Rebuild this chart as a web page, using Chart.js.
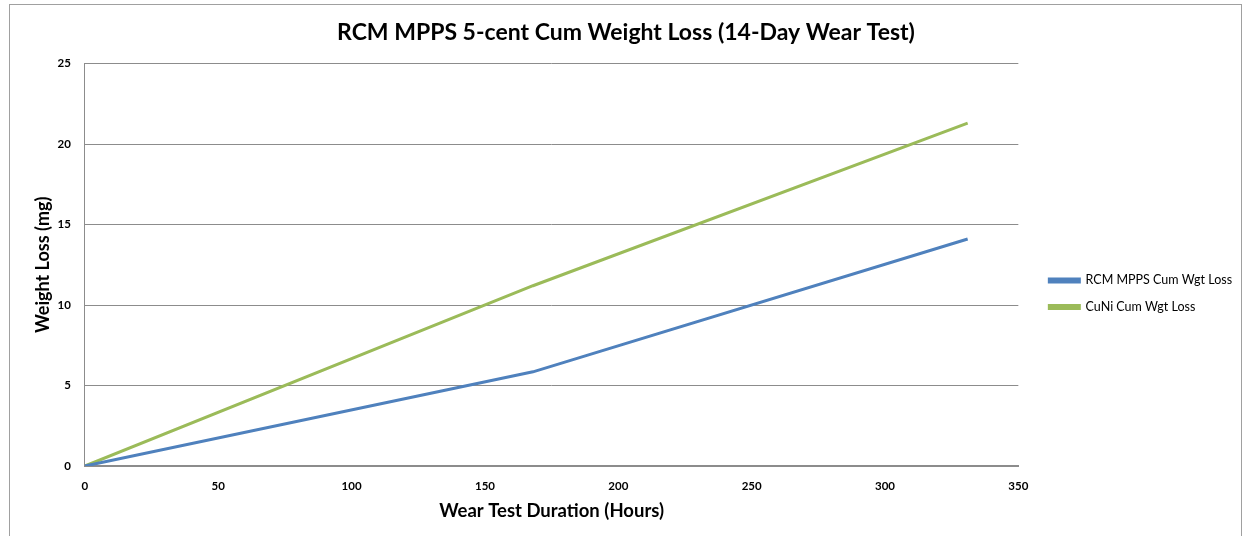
<!DOCTYPE html>
<html>
<head>
<meta charset="utf-8">
<script src="https://cdn.jsdelivr.net/npm/chart.js@4.4.0/dist/chart.umd.min.js"></script>
<style>
  html, body { margin: 0; padding: 0; background: #fff; }
  #frame {
    position: absolute; left: 9px; top: 4px; width: 1231px; height: 540px;
    border-left: 1px solid #a0a0a0; border-top: 1px solid #a0a0a0; border-right: 1px solid #a0a0a0;
  }
  #wrap { position: absolute; left: 0; top: 0; width: 1243px; height: 536px; }
</style>
</head>
<body>
<div id="frame"></div>
<div id="wrap"><canvas id="wearChart"></canvas></div>
<script>
var hours = [0, 168, 331];
var rcmLoss = [0, 5.85, 14.1];
var cuniLoss = [0, 11.2, 21.3];
var xTicks = [0, 50, 100, 150, 200, 250, 300, 350];
var yTicks = [0, 5, 10, 15, 20, 25];

var font = "Lato, 'Open Sans', sans-serif";

var ctx = document.getElementById("wearChart");
var wearChart = new Chart(ctx, {
  type: "line",
  data: {
    datasets: [
      {
        label: "RCM MPPS Cum Wgt Loss",
        data: hours.map(function (h, i) { return { x: h, y: rcmLoss[i] }; }),
        borderColor: "#4f81bd",
        backgroundColor: "#4f81bd",
        borderWidth: 3,
        pointRadius: 0,
        tension: 0,
      },
      {
        label: "CuNi Cum Wgt Loss",
        data: hours.map(function (h, i) { return { x: h, y: cuniLoss[i] }; }),
        borderColor: "#9bbb59",
        backgroundColor: "#9bbb59",
        borderWidth: 3,
        pointRadius: 0,
        tension: 0,
      },
    ],
  },
  options: {
    responsive: true,
    maintainAspectRatio: false,
    animation: false,
    layout: { padding: { left: 12, right: 3, top: 11, bottom: 0 } },
    plugins: {
      title: {
        display: true,
        text: "RCM MPPS 5-cent Cum Weight Loss (14-Day Wear Test)",
        color: "#000",
        font: { family: font, size: 23, weight: "bold" },
        padding: { top: 8, bottom: 17 },
      },
      legend: {
        position: "right",
        title: {
          display: true,
          text: "",
          font: { family: font, size: 12 },
          padding: { top: 0, bottom: 26 },
        },
        labels: {
          color: "#000",
          boxWidth: 30,
          boxHeight: 3,
          padding: 14,
          font: { family: font, size: 12.5 },
        },
      },
      tooltip: { enabled: false },
    },
    scales: {
      x: {
        type: "linear",
        min: 0,
        max: 350,
        afterBuildTicks: function (axis) {
          axis.ticks = xTicks.map(function (v) { return { value: v }; });
        },
        grid: { display: false, drawTicks: false },
        border: { color: "#8c8c8c", width: 2 },
        ticks: {
          color: "#000",
          padding: 13,
          maxRotation: 0,
          font: { family: font, size: 11.5, weight: "bold" },
        },
        title: {
          display: true,
          text: "Wear Test Duration (Hours)",
          color: "#000",
          font: { family: font, size: 18.5, weight: "bold" },
          padding: { top: -6, bottom: 14 },
        },
      },
      y: {
        min: 0,
        max: 25,
        afterBuildTicks: function (axis) {
          axis.ticks = yTicks.map(function (v) { return { value: v }; });
        },
        grid: { color: "#8c8c8c", lineWidth: 1, drawTicks: false },
        border: { color: "#8c8c8c", width: 1 },
        ticks: {
          color: "#000",
          padding: 14,
          font: { family: font, size: 11.5, weight: "bold" },
        },
        title: {
          display: true,
          text: "Weight Loss (mg)",
          color: "#000",
          font: { family: font, size: 18, weight: "bold" },
          padding: { top: 20, bottom: -10 },
        },
      },
      gap: {
        type: "linear",
        position: "right",
        display: true,
        grid: { display: false, drawTicks: false },
        border: { display: false },
        ticks: { display: false },
        afterFit: function (axis) { axis.width = 17; },
      },
    },
  },
});
</script>
</body>
</html>
